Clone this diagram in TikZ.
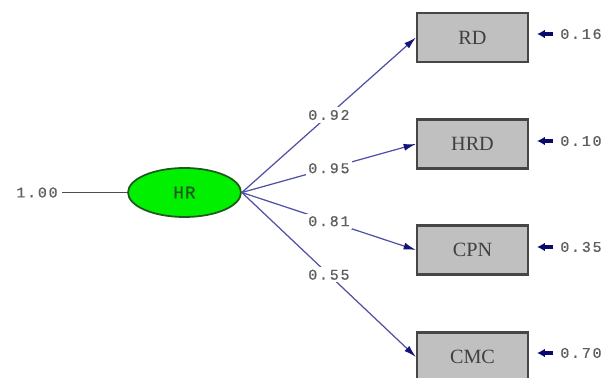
\documentclass[tikz,border=0pt]{standalone}
\usepackage{fontspec}
\setmainfont{Liberation Serif}
\newfontfamily\numfont[LetterSpace=12,FakeBold=0.6]{Liberation Mono}
\newfontfamily\latfont[LetterSpace=6,FakeBold=0.8]{Liberation Mono}
\usetikzlibrary{shapes.geometric,arrows.meta}
\definecolor{pathblue}{RGB}{80,80,165}
\definecolor{headblue}{RGB}{20,20,120}
\definecolor{errblue}{RGB}{10,10,110}
\definecolor{boxgray}{RGB}{192,192,192}
\definecolor{edgegray}{RGB}{70,70,70}
\definecolor{numgray}{RGB}{95,95,95}
\definecolor{latgreen}{RGB}{0,240,0}
\definecolor{latedge}{RGB}{30,90,30}
\tikzset{
    obsbox/.style={draw=edgegray,line width=1.2pt,fill=boxgray,minimum width=2.22cm,
        minimum height=0.98cm,inner sep=0pt,text=black!75,font=\fontsize{11.5}{12}\selectfont},
    latent/.style={ellipse,draw=latedge,line width=1pt,fill=latgreen,minimum width=2.26cm,
        minimum height=0.98cm,inner sep=0pt,text=latedge,font=\latfont\fontsize{10}{10}\selectfont},
    coef/.style={fill=white,inner sep=1.5pt,text=numgray,font=\numfont\fontsize{8.5}{9}\selectfont},
    errlbl/.style={inner sep=0pt,anchor=west,text=numgray,font=\numfont\fontsize{8.5}{9}\selectfont},
    loading/.style={pathblue,line width=0.7pt,-{Latex[length=7pt,width=4pt,color=headblue]}},
    errarrow/.style={errblue,line width=2pt,-{Latex[length=4.5pt,width=5pt]},
        shorten <=0.14cm,shorten >=0.16cm}
}
\begin{document}
\begin{tikzpicture}[x=0.02cm,y=-0.02cm]
    \clip (0,0) rectangle (606,378);
    \fill[white] (0,0) rectangle (606,378);

    \draw
        (184.5,192.5) node(hr)[latent] {HR}
        (58,192.5) node(var)[errlbl,anchor=east] {1.00};

    \draw
        (472.5,37.5) node(rd)[obsbox] {RD}
        (472.5,144) node(hrd)[obsbox] {HRD}
        (472.5,250) node(cpn)[obsbox] {CPN}
        (472.5,357) node(cmc)[obsbox] {CMC};

    % error variances
    \draw
        (560,34) node(e1)[errlbl] {0.16}
        (560,141) node(e2)[errlbl] {0.10}
        (560,247) node(e3)[errlbl] {0.35}
        (560,353) node(e4)[errlbl] {0.70};

    \draw[numgray!80!black,line width=0.8pt,shorten <=0.08cm] (var.east) -- (hr.west);

    \draw[loading] (hr.east) -- node[coef,pos=0.5] {0.92} (rd.west);
    \draw[loading] (hr.east) -- node[coef,pos=0.5] {0.95} (hrd.west);
    \draw[loading] (hr.east) -- node[coef,pos=0.5] {0.81} (cpn.west);
    \draw[loading] (hr.east) -- node[coef,pos=0.5] {0.55} (cmc.west);

    \draw[errarrow] (e1.west) -- (rd.east |- e1.west);
    \draw[errarrow] (e2.west) -- (hrd.east |- e2.west);
    \draw[errarrow] (e3.west) -- (cpn.east |- e3.west);
    \draw[errarrow] (e4.west) -- (cmc.east |- e4.west);
\end{tikzpicture}
\end{document}
